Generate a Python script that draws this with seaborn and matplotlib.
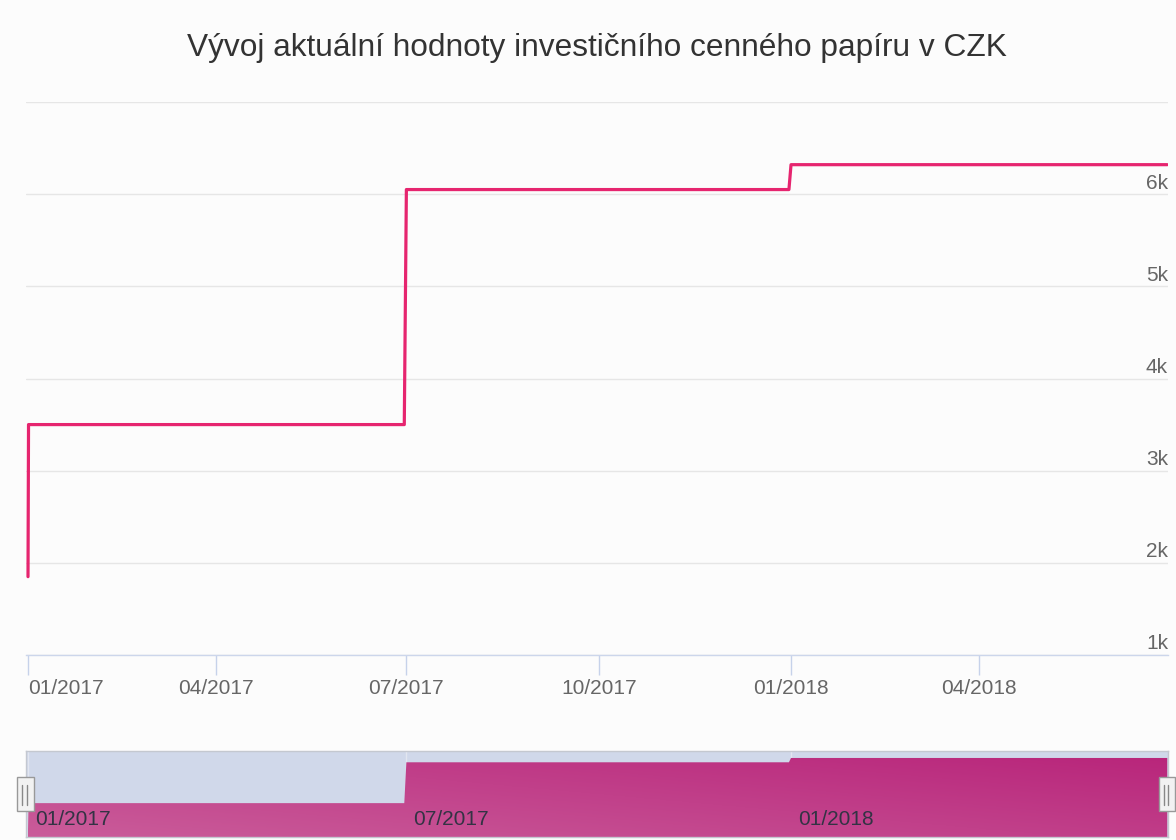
import matplotlib
matplotlib.use('Agg')
import matplotlib.pyplot as plt
import matplotlib.dates as mdates
import matplotlib.transforms as mtransforms
from matplotlib.patches import Rectangle
from matplotlib.lines import Line2D
import numpy as np
import pandas as pd
import seaborn as sns

title = "Vývoj aktuální hodnoty investičního cenného papíru v CZK"
dates = ["2017-01-01 00:00", "2017-01-01 06:00", "2017-06-30 00:00", "2017-07-01 00:00",
         "2017-12-31 00:00", "2018-01-01 00:00", "2018-06-30 00:00"]
values = [1850, 3500, 3500, 6050, 6050, 6320, 6320]
x_ticks = ["2017-01-01", "2017-04-01", "2017-07-01", "2017-10-01", "2018-01-01", "2018-04-01"]
x_tick_labels = ["01/2017", "04/2017", "07/2017", "10/2017", "01/2018", "04/2018"]
y_ticks = [1000, 2000, 3000, 4000, 5000, 6000, 7000]
y_tick_labels = ["1k", "2k", "3k", "4k", "5k", "6k", ""]
nav_ticks = ["2017-01-01", "2017-07-01", "2018-01-01"]
nav_tick_labels = ["01/2017", "07/2017", "01/2018"]

df = pd.DataFrame({"date": pd.to_datetime(dates, format="%Y-%m-%d %H:%M"), "value": values})

sns.set_theme(style="white")
plt.rcParams['font.family'] = ['Liberation Sans', 'DejaVu Sans']

BG = '#fcfcfc'
W, H = 1176, 840
fig = plt.figure(figsize=(W / 100, H / 100), dpi=100, facecolor=BG)


def ax_rect(x0, y0, x1, y1):
    return [x0 / W, 1 - y1 / H, (x1 - x0) / W, (y1 - y0) / H]


xmin = pd.Timestamp("2016-12-31 01:00")
xmax = pd.Timestamp("2018-06-30 08:00")

# ---------------- main chart ----------------
ax = fig.add_axes(ax_rect(26, 102, 1168, 655))
ax.set_facecolor(BG)
sns.lineplot(data=df, x="date", y="value", ax=ax, color="#e6256f",
             linewidth=2.3, zorder=3, estimator=None, sort=False)
ax.set_xlim(xmin, xmax)
ax.set_ylim(1000, 7000)
ax.set_xlabel("")
ax.set_ylabel("")
ax.set_yticks(y_ticks)
ax.set_yticklabels([])
ax.tick_params(axis="y", left=False, right=False, labelleft=False)
ax.grid(axis="y", color="#e6e6e6", linewidth=1)
ax.grid(axis="x", visible=False)
ax.set_axisbelow(True)
for s in ["top", "left", "right"]:
    ax.spines[s].set_visible(False)
ax.spines["bottom"].set_color("#ccd6eb")
ax.spines["bottom"].set_linewidth(1)

ax.set_xticks(pd.to_datetime(x_ticks))
ax.set_xticklabels(x_tick_labels)
ax.tick_params(axis="x", bottom=True, length=14.4, width=1.0, color="#c6d2ea",
               labelsize=15, labelcolor="#666666", pad=3)
for i, lab in enumerate(ax.get_xticklabels()):
    if i == 0:
        lab.set_horizontalalignment("left")

ytrans = mtransforms.blended_transform_factory(ax.transAxes, ax.transData) + \
    mtransforms.ScaledTranslation(0, 4 / 72, fig.dpi_scale_trans)
for v, lab in zip(y_ticks, y_tick_labels):
    ax.text(1.0, v, lab, transform=ytrans, ha="right", va="baseline",
            fontsize=15, color="#666666")

fig.text(597 / W, 1 - 56 / H, title, ha="center", va="baseline", fontsize=22.8,
         color="#333333")

# ---------------- navigator ----------------
nav_lo, nav_hi = 1386, 6755
nav = fig.add_axes(ax_rect(26, 751, 1168, 837))
nav.set_facecolor("#d0d8ea")
nav.set_xlim(xmin, xmax)
nav.set_ylim(nav_lo, nav_hi)
nav.set_xticks([])
nav.set_yticks([])
for d in pd.to_datetime(nav_ticks):
    nav.axvline(d, color="#e2e6f0", linewidth=1, zorder=1)

poly = nav.fill_between(df["date"], df["value"], nav_lo, color="none",
                        linewidth=0, zorder=2)
c1 = np.array([202, 92, 154]) / 255.0
c2 = np.array([184, 36, 122]) / 255.0
gx, gy = np.meshgrid(np.linspace(0, 1, 200), np.linspace(0, 1, 50))
t = np.clip(0.55 * gx + 0.45 * gy, 0, 1)[..., None]
grad = c1 * (1 - t) + c2 * t
x0n, x1n = mdates.date2num(xmin), mdates.date2num(xmax)
im = nav.imshow(grad, extent=[x0n, x1n, nav_lo, nav_hi], origin="lower",
                aspect="auto", zorder=2)
im.set_clip_path(poly.get_paths()[0], transform=nav.transData)
nav.set_xlim(xmin, xmax)
nav.set_ylim(nav_lo, nav_hi)
for s in nav.spines.values():
    s.set_color("#c4c8d0")
    s.set_linewidth(1)

ntrans = mtransforms.blended_transform_factory(nav.transData, nav.transAxes) + \
    mtransforms.ScaledTranslation(7 / 100, 0, fig.dpi_scale_trans)
for d, lab in zip(pd.to_datetime(nav_ticks), nav_tick_labels):
    nav.text(d, 0.2, lab, transform=ntrans, ha="left", va="center",
             fontsize=15, color="#333344", zorder=4)

# handles
for (hx0, hx1, l1, l2) in [(17, 34, 22, 27), (1159, 1175, 1164, 1168)]:
    fig.add_artist(Rectangle((hx0 / W, 1 - 811 / H), (hx1 - hx0) / W, 34 / H,
                             transform=fig.transFigure, facecolor="#f2f2f2",
                             edgecolor="#999999", linewidth=1, zorder=10))
    for lx in (l1, l2):
        fig.add_artist(Line2D([lx / W, lx / W], [1 - 805 / H, 1 - 785 / H],
                              transform=fig.transFigure, color="#888888",
                              linewidth=1, zorder=11))

fig.savefig("out.png", dpi=100, facecolor=BG)
